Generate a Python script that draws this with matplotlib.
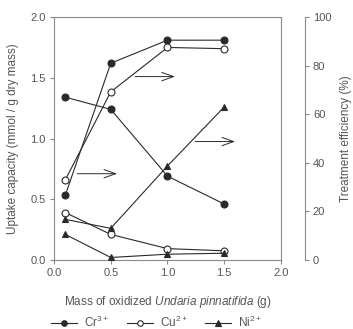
import matplotlib
matplotlib.use('Agg')
import matplotlib.pyplot as plt

plt.rcParams['font.family'] = ['Liberation Sans', 'DejaVu Sans']
plt.rcParams['mathtext.fontset'] = 'custom'
plt.rcParams['mathtext.rm'] = 'Liberation Sans'
plt.rcParams['mathtext.it'] = 'Liberation Sans:italic'

mass = [0.1, 0.5, 1.0, 1.5]

# uptake capacity, mmol / g dry mass (left axis)
cr_uptake = [1.34, 1.24, 0.69, 0.46]
cu_uptake = [0.39, 0.21, 0.093, 0.075]
ni_uptake = [0.21, 0.02, 0.047, 0.055]

# treatment efficiency, % (right axis)
cr_eff = [26.7, 81, 90.5, 90.5]
cu_eff = [33, 69.2, 87.5, 87]
ni_eff = [16.7, 13, 38.7, 63]

labels = ['Cr$^{3+}$', 'Cu$^{2+}$', 'Ni$^{2+}$']

line_c = '#2a2a2a'
axis_c = '#8a8a8a'
text_c = '#555555'

fig = plt.figure(figsize=(3.53, 3.29), dpi=100)
ax = fig.add_axes([0.153, 0.210, 0.643, 0.738])
ax2 = ax.twinx()

styles = [dict(marker='o', mfc=line_c), dict(marker='o', mfc='white'), dict(marker='^', mfc=line_c)]
uptakes = [cr_uptake, cu_uptake, ni_uptake]
effs = [cr_eff, cu_eff, ni_eff]

handles = []
for up, ef, st, lab in zip(uptakes, effs, styles, labels):
    h, = ax.plot(mass, up, color=line_c, lw=0.8, ms=5, mec=line_c, mew=0.8, label=lab, zorder=3, **st)
    ax2.plot(mass, ef, color=line_c, lw=0.8, ms=5, mec=line_c, mew=0.8, zorder=3, **st)
    handles.append(h)

ax.set_xlim(0, 2.0)
ax.set_ylim(0, 2.0)
ax2.set_ylim(0, 100)
ax.set_xticks([0, 0.5, 1.0, 1.5, 2.0])
ax.set_yticks([0, 0.5, 1.0, 1.5, 2.0])
ax.xaxis.set_major_formatter(matplotlib.ticker.FormatStrFormatter('%.1f'))
ax.yaxis.set_major_formatter(matplotlib.ticker.FormatStrFormatter('%.1f'))
ax2.set_yticks([0, 20, 40, 60, 80, 100])

for sp in ax.spines.values():
    sp.set_color(axis_c)
    sp.set_linewidth(0.8)
ax.tick_params(axis='both', direction='out', length=3, width=0.8, color=axis_c,
               labelsize=8, labelcolor=text_c, pad=3)

ax2.spines[['top', 'bottom', 'left']].set_visible(False)
ax2.spines['right'].set_position(('outward', 17))
ax2.spines['right'].set_color(axis_c)
ax2.spines['right'].set_linewidth(0.8)
ax2.tick_params(axis='y', direction='out', length=3, width=0.8, color=axis_c,
                labelsize=8, labelcolor=text_c, pad=3)

ax.set_xlabel('Mass of oxidized $\\it{Undaria\\ pinnatifida}$ (g)', fontsize=8.5, color=text_c, labelpad=11)
ax.set_ylabel('Uptake capacity (mmol / g dry mass)', fontsize=8.5, color=text_c, labelpad=8)
ax2.set_ylabel('Treatment efficiency (%)', fontsize=8.5, color=text_c, labelpad=6)

# arrows pointing to the efficiency axis
arrow = dict(arrowstyle='->,head_length=0.7,head_width=0.25', color=line_c, lw=0.7, mutation_scale=12)
ax.annotate('', xy=(1.09, 1.51), xytext=(0.69, 1.51), arrowprops=arrow)
ax.annotate('', xy=(0.58, 0.71), xytext=(0.18, 0.71), arrowprops=arrow)
ax.annotate('', xy=(1.62, 0.975), xytext=(1.22, 0.975), arrowprops=arrow)

fig.legend(handles=handles, loc='lower left', bbox_to_anchor=(0.115, -0.035), ncol=3, frameon=False,
           fontsize=8.5, labelcolor=text_c, handlelength=2.2, columnspacing=1.5, handletextpad=0.6,
           markerscale=0.8)

fig.savefig('out.png', dpi=100)
